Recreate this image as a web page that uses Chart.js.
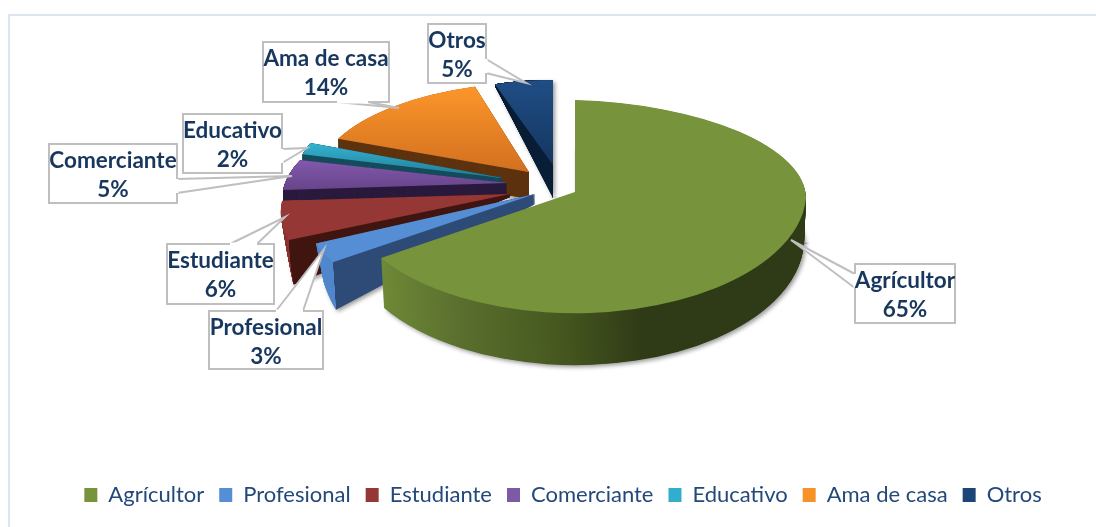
<!DOCTYPE html>
<html>
<head>
<meta charset="utf-8">
<script src="https://cdn.jsdelivr.net/npm/chart.js@4"></script>
<style>
  html, body { margin: 0; background: #fff; }
  #frame { position: absolute; left: 8px; top: 14px; width: 1088px; height: 513px;
           border-top: 2px solid #dce6f2; border-left: 2px solid #dce6f2; box-sizing: border-box; }
  canvas { position: absolute; left: 0; top: 0; }
</style>
</head>
<body>
<div id="frame"></div>
<canvas id="myPieChart" width="1096" height="527"></canvas>
<script>
const categories = ["Agrícultor", "Profesional", "Estudiante", "Comerciante", "Educativo", "Ama de casa", "Otros"];
const shares = [65, 3, 6, 5, 2, 14, 5];
const colors = ["#77933c", "#558ed5", "#953735", "#7d5aa6", "#31aecb", "#f79229", "#1c4679"];

// 3D look: where each slice sits on the page (top face, then bottom face)
const faces = [
  { top: { ax: 575, ay: 192, rx: 231, up: 92, down: 121, skew: -0.1, skewUp: 0, tilt: 0.027 }, bottom: { ax: 575, ay: 238, rx: 229, up: 92, down: 127, skew: -0.08, skewUp: 0, tilt: 0.026 } },
  { top: { ax: 535, ay: 194, rx: 228, up: 90, down: 116, skew: -0.26 }, bottom: { ax: 535, ay: 204, rx: 212, up: 90, down: 180, skew: -0.26 } },
  { top: { ax: 510, ay: 194, rx: 226, up: 90, down: 108, skew: -0.357 }, bottom: { ax: 510, ay: 197, rx: 215, up: 90, down: 206, skew: -0.25 } },
  { top: { ax: 507, ay: 183, rx: 222, up: 92, down: 113, skew: -0.352 }, bottom: { ax: 507, ay: 198, rx: 222, up: 92, down: 113, skew: -0.352 } },
  { top: { ax: 503, ay: 178, rx: 207, up: 95, down: 100, skew: 0 }, bottom: { ax: 503, ay: 186, rx: 207, up: 95, down: 100, skew: 0 } },
  { top: { ax: 529, ay: 172, rx: 210, up: 90, down: 100, skew: -0.127 }, bottom: { ax: 529, ay: 199, rx: 210, up: 90, down: 100, skew: -0.127 } },
  { top: { ax: 553, ay: 165, rx: 188, up: 85, down: 100, skew: 0 }, bottom: { ax: 553, ay: 198, rx: 188, up: 118, down: 100, skew: 0 } },
];
// top face shading: screen y range and colours
const topShade = [
  null,
  null,
  null,
  [160, 198, "#8358ad", "#5f3f80"],
  [143, 175, "#35b3d3", "#23809a"],
  [90, 172, "#fb942a", "#d2701f"],
  [82, 165, "#1f4d84", "#14365f"],
];
const sideColor = ["#2f3b16", "#2d4b76", "#41150f", "#2b1c3f", "#174e5e", "#5e3410", "#0b2038"];
const wallColor = [null, "#4f86cc", "#8a3230", null, null, null, null];
const greenWall = [[385, "#6f8a37"], [470, "#5a6f2e"], [570, "#46581f"], [655, "#2f3a16"], [806, "#2f3a16"]];
const drawOrder = [6, 5, 4, 3, 2, 1, 0];
const sweepSteps = 90;

// label boxes: x, y, w, h and the tail as two base points and a tip
const callouts = [
  { box: [855, 264, 100, 59], tail: [[855, 274], [791, 240], [855, 288]] },
  { box: [209, 311, 114, 58], tail: [[276, 311], [324, 249], [303, 311]] },
  { box: [167, 244, 107, 60], tail: [[230, 244], [285, 217], [257, 244]] },
  { box: [49, 144, 128, 59], tail: [[177, 179], [292, 176], [177, 193]] },
  { box: [183, 114, 99, 59], tail: [[282, 149], [307, 148], [282, 163]] },
  { box: [263, 42, 126, 60], tail: [[337, 102], [399, 108], [368, 102]] },
  { box: [428, 24, 58, 59], tail: [[486, 59], [526, 83], [486, 73]] },
];

const W = 1096, H = 527;

function mix(a, b, t) {
  const out = {};
  for (const k in a) out[k] = a[k] + (b[k] - a[k]) * t;
  return out;
}

function topFill(ctx, arc, f, ry, shade, base) {
  if (!shade) return base;
  const r = arc.outerRadius;
  const g = ctx.createLinearGradient(0, arc.y + (shade[0] - f.ay) * r / ry, 0, arc.y + (shade[1] - f.ay) * r / ry);
  g.addColorStop(0, shade[2]);
  g.addColorStop(1, shade[3]);
  return g;
}

function sideFill(ctx, arc, f, i) {
  const r = arc.outerRadius;
  if (i === 0) {
    const first = greenWall[0][0], last = greenWall[greenWall.length - 1][0];
    const g = ctx.createLinearGradient(arc.x + (first - f.ax) * r / f.rx, 0, arc.x + (last - f.ax) * r / f.rx, 0);
    greenWall.forEach(s => g.addColorStop((s[0] - first) / (last - first), s[1]));
    return g;
  }
  if (wallColor[i]) {
    const t = 1 + Math.cos(arc.startAngle);
    const g = ctx.createLinearGradient(arc.x - r, 0, arc.x, 0);
    g.addColorStop(0, wallColor[i]);
    g.addColorStop(t, wallColor[i]);
    g.addColorStop(t, sideColor[i]);
    g.addColorStop(1, sideColor[i]);
    return g;
  }
  return sideColor[i];
}

// one face = the arc drawn twice, flatter above the apex than below it
function drawFace(ctx, arc, f, fillFor) {
  const r = arc.outerRadius;
  const saved = arc.options;
  const tilt = f.tilt || 0;
  const yl = f.ay - tilt * f.ax, yr = f.ay + tilt * (W - f.ax);
  [true, false].forEach(upper => {
    const ry = upper ? f.up : f.down;
    const skew = upper && f.skewUp !== undefined ? f.skewUp : f.skew;
    // the lower half overlaps the upper one a little so no seam shows
    const lap = upper ? 0 : -1.5;
    ctx.save();
    ctx.beginPath();
    ctx.moveTo(0, yl + lap);
    ctx.lineTo(W, yr + lap);
    ctx.lineTo(W, upper ? 0 : H);
    ctx.lineTo(0, upper ? 0 : H);
    ctx.closePath();
    ctx.clip();
    ctx.translate(f.ax, f.ay);
    ctx.transform(f.rx / r, tilt * f.rx / r, skew * ry / r, ry / r, 0, 0);
    ctx.translate(-arc.x, -arc.y);
    arc.options = Object.assign(Object.create(saved), { backgroundColor: fillFor(ry), borderWidth: 0 });
    arc.draw(ctx);
    ctx.restore();
  });
  arc.options = saved;
}

const pie3d = {
  id: "pie3d",
  beforeDatasetsDraw(chart) {
    const ctx = chart.ctx;
    const arcs = chart.getDatasetMeta(0).data;
    drawOrder.forEach(i => {
      const arc = arcs[i];
      const { top, bottom } = faces[i];
      for (let s = sweepSteps; s >= 1; s--) {
        const f = mix(top, bottom, s / sweepSteps);
        if (s === sweepSteps) {
          ctx.save();
          ctx.shadowColor = "rgba(0,0,0,0.4)";
          ctx.shadowBlur = 4;
          ctx.shadowOffsetX = 2;
          ctx.shadowOffsetY = 2;
        }
        drawFace(ctx, arc, f, () => sideFill(ctx, arc, f, i));
        if (s === sweepSteps) ctx.restore();
      }
      drawFace(ctx, arc, top, ry => topFill(ctx, arc, top, ry, topShade[i], colors[i]));
    });
    return false;
  },
  afterDraw(chart) {
    const ctx = chart.ctx;
    ctx.save();
    callouts.forEach((c, i) => {
      const [x, y, w, h] = c.box;
      ctx.lineWidth = 2;
      ctx.strokeStyle = "#bfbfbf";
      ctx.fillStyle = "#fff";
      ctx.fillRect(x, y, w, h);
      ctx.strokeRect(x, y, w, h);
      ctx.beginPath();
      ctx.moveTo(c.tail[0][0], c.tail[0][1]);
      ctx.lineTo(c.tail[1][0], c.tail[1][1]);
      ctx.lineTo(c.tail[2][0], c.tail[2][1]);
      ctx.fill();
      ctx.stroke();
      // hide the box edge under the tail base
      ctx.beginPath();
      ctx.moveTo(c.tail[0][0], c.tail[0][1]);
      ctx.lineTo(c.tail[2][0], c.tail[2][1]);
      ctx.strokeStyle = "#fff";
      ctx.lineWidth = 3;
      ctx.stroke();
      ctx.fillStyle = "#17375e";
      ctx.font = "bold 22.5px Lato";
      ctx.textAlign = "center";
      ctx.textBaseline = "middle";
      ctx.fillText(categories[i], x + w / 2, y + 17);
      ctx.fillText(shares[i] + "%", x + w / 2, y + 46);
    });
    ctx.restore();
  },
};

const myPieChart = new Chart(document.getElementById("myPieChart"), {
  type: "pie",
  plugins: [pie3d],
  data: {
    labels: categories,
    datasets: [{ data: shares, backgroundColor: colors, borderWidth: 0 }],
  },
  options: {
    responsive: false,
    animation: false,
    layout: { padding: { left: 30, bottom: 11 } },
    plugins: {
      tooltip: { enabled: false },
      legend: {
        display: true,
        position: "bottom",
        labels: {
          boxWidth: 13,
          boxHeight: 14,
          padding: 15,
          color: "#23497a",
          font: { family: "Lato", size: 22 },
        },
      },
    },
  },
});
</script>
</body>
</html>
